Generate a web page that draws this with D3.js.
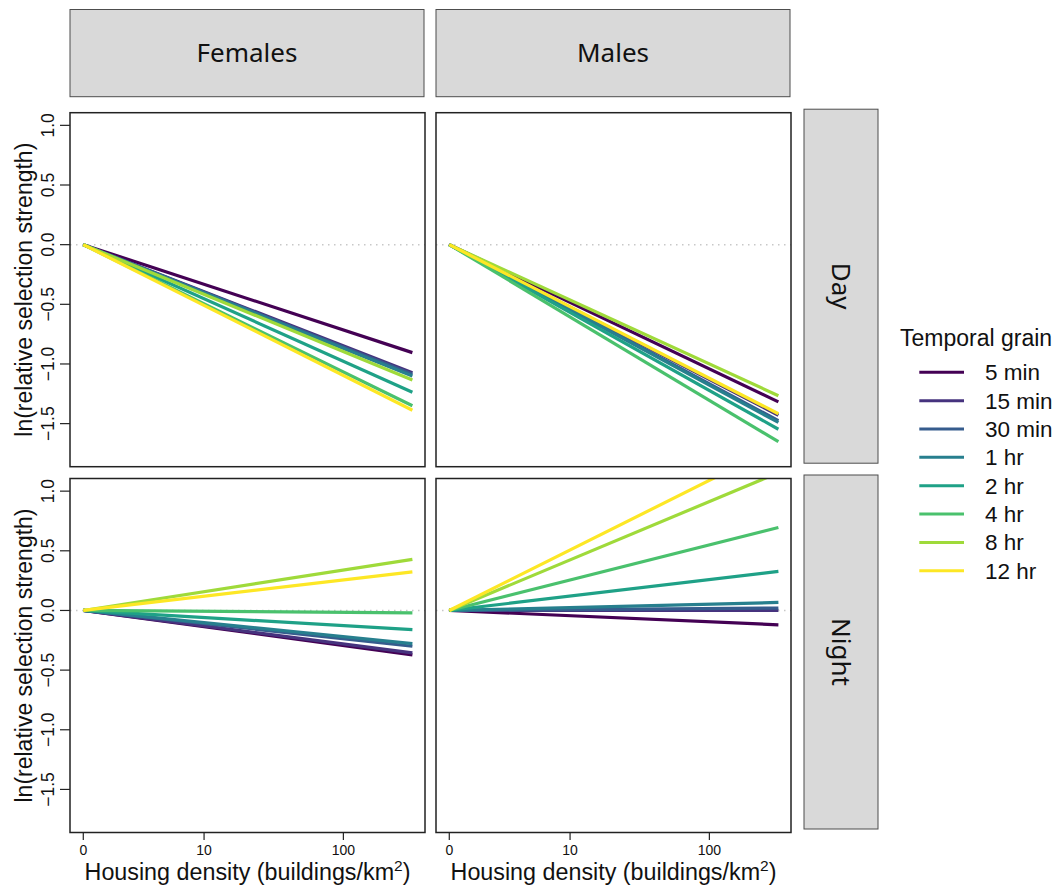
<!DOCTYPE html>
<html>
<head>
<meta charset="utf-8">
<script src="https://cdn.jsdelivr.net/npm/d3@7"></script>
<style>
  html, body { margin: 0; padding: 0; background: #ffffff; }
  svg { display: block; }
</style>
</head>
<body>
<svg id="chart" width="1062" height="892"></svg>
<script>
// Facets and series
const sexes = ["Females", "Males"];
const periods = ["Day", "Night"];
const grains = ["5 min", "15 min", "30 min", "1 hr", "2 hr", "4 hr", "8 hr", "12 hr"];
const grainColors = ["#440154", "#46337E", "#365C8D", "#277F8E", "#1FA187", "#4AC16D", "#9FDA3A", "#FDE725"];

// Housing density range covered by each fitted line (buildings/km²)
const densityRange = [0, 294];

// ln(relative selection strength) at the start and end of the density range, per grain
const startValues = [0, 0, 0, 0, 0, 0, 0, 0];
const femalesDay   = [-0.905, -1.073, -1.086, -1.100, -1.237, -1.350, -1.134, -1.388];
const malesDay     = [-1.318, -1.430, -1.475, -1.490, -1.547, -1.651, -1.266, -1.417];
const femalesNight = [-0.372, -0.355, -0.300, -0.278, -0.161, -0.020, 0.428, 0.323];
const malesNight   = [-0.120, 0.000, 0.020, 0.067, 0.328, 0.695, 1.155, 1.380];

// Axis ticks
const xTicks = [0, 10, 100];
const yTicks = [-1.5, -1.0, -0.5, 0.0, 0.5, 1.0];

const panelValues = {
  "Females|Day": femalesDay,
  "Males|Day": malesDay,
  "Females|Night": femalesNight,
  "Males|Night": malesNight
};

// Layout
const colX = [70, 436];
const rowY = [112.7, 478.5];
const panelW = 355, panelH = 354;
const topStrip = { y: 9.5, h: 87.2 };
const sideStrip = { x: 804, w: 74, dy: -3.5 };

const svg = d3.select("#chart");

const x = d3.scaleSymlog().constant(1.83)
  .domain([-0.417, 357.6])
  .range([0, panelW]);
const y = d3.scaleLinear()
  .domain([-1.861, 1.106])
  .range([panelH, 0]);

const fmtY = d3.format(".1f");
const axisFont = "'Liberation Sans', Arial, Helvetica, sans-serif";
const stripFont = "'Noto Sans', 'Open Sans', sans-serif";

const line = d3.line()
  .x(d => x(d[0]))
  .y(d => y(d[1]));

// Top strips
sexes.forEach((s, ci) => {
  const g = svg.append("g").attr("transform", `translate(${colX[ci]},${topStrip.y})`);
  g.append("rect")
    .attr("width", panelW - 1).attr("height", topStrip.h)
    .attr("fill", "#d9d9d9").attr("stroke", "#4d4d4d").attr("stroke-width", 1);
  g.append("text")
    .attr("x", (panelW - 1) / 2).attr("y", topStrip.h / 2 + 9.3)
    .attr("text-anchor", "middle")
    .attr("font-family", stripFont).attr("font-size", 26)
    .attr("fill", "#111")
    .text(s);
});

// Side strips
periods.forEach((p, ri) => {
  const top = rowY[ri] + sideStrip.dy;
  const g = svg.append("g").attr("transform", `translate(${sideStrip.x},${top})`);
  g.append("rect")
    .attr("width", sideStrip.w).attr("height", panelH)
    .attr("fill", "#d9d9d9").attr("stroke", "#4d4d4d").attr("stroke-width", 1);
  g.append("text")
    .attr("transform", `translate(${28},${panelH / 2}) rotate(90)`)
    .attr("text-anchor", "middle")
    .attr("font-family", stripFont).attr("font-size", 26)
    .attr("fill", "#111")
    .text(p);
});

// Panels
periods.forEach((p, ri) => {
  sexes.forEach((s, ci) => {
    const g = svg.append("g").attr("transform", `translate(${colX[ci]},${rowY[ri]})`);
    const clipId = `clip-${ri}-${ci}`;
    g.append("clipPath").attr("id", clipId)
      .append("rect").attr("width", panelW).attr("height", panelH);

    // reference line at zero
    g.append("line")
      .attr("x1", 0).attr("x2", panelW)
      .attr("y1", y(0)).attr("y2", y(0))
      .attr("stroke", "#c8c8c8").attr("stroke-width", 1.5)
      .attr("stroke-dasharray", "1.5,4.5");

    const vals = panelValues[`${s}|${p}`];
    const plot = g.append("g").attr("clip-path", `url(#${clipId})`);
    grains.forEach((gr, i) => {
      plot.append("path")
        .datum([[densityRange[0], startValues[i]], [densityRange[1], vals[i]]])
        .attr("d", line)
        .attr("fill", "none")
        .attr("stroke", grainColors[i])
        .attr("stroke-width", 3.2);
    });

    // frame
    g.append("rect")
      .attr("width", panelW).attr("height", panelH)
      .attr("fill", "none").attr("stroke", "#222").attr("stroke-width", 1.5);

    // y axis on the left column
    if (ci === 0) {
      const ya = g.append("g");
      yTicks.forEach(t => {
        ya.append("line")
          .attr("x1", -10).attr("x2", 0)
          .attr("y1", y(t)).attr("y2", y(t))
          .attr("stroke", "#222").attr("stroke-width", 1.2);
        ya.append("text")
          .attr("transform", `translate(${-16.5},${y(t)}) rotate(-90)`)
          .attr("text-anchor", "middle")
          .attr("font-family", axisFont).attr("font-size", 17.5)
          .attr("fill", "#111")
          .text(fmtY(t));
      });
      g.append("text")
        .attr("transform", `translate(${31.5 - colX[0]},${panelH / 2}) rotate(-90)`)
        .attr("text-anchor", "middle")
        .attr("font-family", axisFont).attr("font-size", 23)
        .attr("fill", "#111")
        .text("ln(relative selection strength)");
    }

    // x axis on the bottom row
    if (ri === 1) {
      const xa = g.append("g");
      xTicks.forEach(t => {
        xa.append("line")
          .attr("x1", x(t)).attr("x2", x(t))
          .attr("y1", panelH).attr("y2", panelH + 7.5)
          .attr("stroke", "#222").attr("stroke-width", 1.2);
        xa.append("text")
          .attr("x", x(t)).attr("y", panelH + 22.5)
          .attr("text-anchor", "middle")
          .attr("font-family", axisFont).attr("font-size", 14)
          .attr("fill", "#111")
          .text(t);
      });
      const title = g.append("text")
        .attr("x", panelW / 2).attr("y", panelH + 47.5)
        .attr("text-anchor", "middle")
        .attr("font-family", axisFont).attr("font-size", 23.3)
        .attr("fill", "#111");
      title.append("tspan").text("Housing density (buildings/km");
      title.append("tspan").attr("font-size", 15.5).attr("dy", -9.5).text("2");
      title.append("tspan").attr("dy", 9.5).text(")");
    }
  });
});

// Legend
const legend = svg.append("g").attr("transform", "translate(900,0)");
legend.append("text")
  .attr("x", 0).attr("y", 345.5)
  .attr("font-family", axisFont).attr("font-size", 23)
  .attr("fill", "#111")
  .text("Temporal grain");
grains.forEach((gr, i) => {
  const ly = 372.3 + i * 28.35;
  legend.append("line")
    .attr("x1", 19.3).attr("x2", 64)
    .attr("y1", ly).attr("y2", ly)
    .attr("stroke", grainColors[i]).attr("stroke-width", 3);
  legend.append("text")
    .attr("x", 85).attr("y", ly + 8)
    .attr("font-family", axisFont).attr("font-size", 22.5)
    .attr("fill", "#111")
    .text(gr);
});
</script>
</body>
</html>
